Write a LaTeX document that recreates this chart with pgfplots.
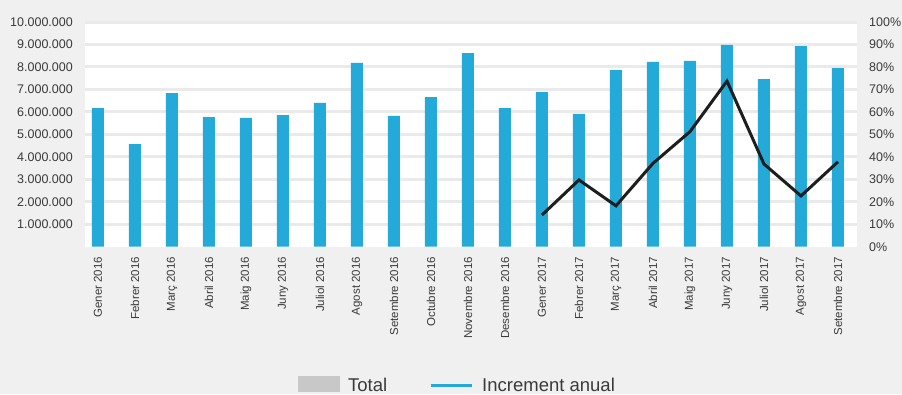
\documentclass[border=0pt]{standalone}
\usepackage{pgfplots}
\pgfplotsset{compat=1.18}
\usepackage{pgfplotstable}
\usepackage{fontspec}
\setmainfont{Liberation Sans}
\definecolor{bgc}{HTML}{F0F0F0}
\definecolor{gridc}{HTML}{EAEAEA}
\definecolor{barc}{HTML}{23AAD9}
\definecolor{legc}{HTML}{C8C8C8}
\definecolor{txt}{HTML}{3A3A3A}
\definecolor{linec}{HTML}{1E1E1E}

\pgfplotstableread{
x val
0 6170000
1 4570000
2 6840000
3 5770000
4 5730000
5 5860000
6 6400000
7 8180000
8 5820000
9 6660000
10 8620000
11 6170000
12 6880000
13 5910000
14 7860000
15 8220000
16 8270000
17 8980000
18 7460000
19 8930000
20 7950000
}\bars

\pgfplotstableread{
x pct
12 14.1
13 29.7
14 18.2
15 37.1
16 51.2
17 73.7
18 36.8
19 22.6
20 37.8
}\incr

\pgfplotsset{
  base/.style={
    scale only axis, width=772pt, height=224.7pt,
    at={(0pt,0pt)}, anchor=south west,
    xmin=-0.351, xmax=20.514, ymin=0,
    axis line style={draw=none},
    major tick length=0pt, tick style={draw=none},
    scaled y ticks=false,
    /pgf/number format/assume math mode=true,
  }
}

\begin{document}
\begin{tikzpicture}
\fill[bgc] (-85pt,-147.3pt) rectangle (817pt,246.7pt);
\begin{axis}[base,
  ymax=10000000,
  axis background/.style={fill=white},
  ymajorgrids, grid style={gridc, line width=3pt},
  ytick={1000000,2000000,3000000,4000000,5000000,6000000,7000000,8000000,9000000,10000000},
  yticklabels={1.000.000,2.000.000,3.000.000,4.000.000,5.000.000,6.000.000,7.000.000,8.000.000,9.000.000,10.000.000},
  yticklabel style={font=\fontsize{12.5}{14}\selectfont, text=txt, anchor=east, inner sep=0pt},
  yticklabel shift=12pt,
  xtick={0,1,2,3,4,5,6,7,8,9,10,11,12,13,14,15,16,17,18,19,20},
  xticklabels={Gener 2016,Febrer 2016,Març 2016,Abril 2016,Maig 2016,Juny 2016,Juliol 2016,Agost 2016,Setembre 2016,Octubre 2016,Novembre 2016,Desembre 2016,Gener 2017,Febrer 2017,Març 2017,Abril 2017,Maig 2017,Juny 2017,Juliol 2017,Agost 2017,Setembre 2017},
  xticklabel style={font=\fontsize{11.5}{13}\selectfont, text=txt, rotate=90, anchor=east, inner sep=0pt},
  xticklabel shift=10pt,
  legend columns=2,
  legend cell align=left,
  legend style={at={(0.481,-0.575)}, anchor=north, draw=none, fill=none,
    font=\fontsize{18.5}{21}\selectfont, text=txt, inner sep=0pt,
    nodes={inner sep=0pt},
    /tikz/every odd column/.append style={column sep=9pt},
    /tikz/every even column/.append style={column sep=42pt}},
]
\addplot[ybar, bar width=12pt, fill=barc, draw=none, forget plot] table[x=x,y=val]{\bars};
\addlegendimage{legend image code/.code={\fill[legc] (0pt,-6pt) rectangle (41pt,9pt);}}
\addlegendentry{Total}
\addlegendimage{legend image code/.code={\draw[barc, line width=3pt] (0pt,0pt) -- (41pt,0pt);}}
\addlegendentry{Increment anual}
\end{axis}
\begin{axis}[base,
  ymax=100,
  axis y line*=right,
  axis x line*=bottom,
  xtick=\empty,
  ytick={0,10,20,30,40,50,60,70,80,90,100},
  yticklabels={0\%,10\%,20\%,30\%,40\%,50\%,60\%,70\%,80\%,90\%,100\%},
  yticklabel style={font=\fontsize{12.5}{14}\selectfont, text=txt, anchor=west, inner sep=0pt},
  yticklabel shift=12pt,
]
\addplot[linec, line width=3pt] table[x=x,y=pct]{\incr};
\end{axis}
\pgfresetboundingbox
\path[use as bounding box] (-85pt,-147.3pt) rectangle (817pt,246.7pt);
\end{tikzpicture}
\end{document}
